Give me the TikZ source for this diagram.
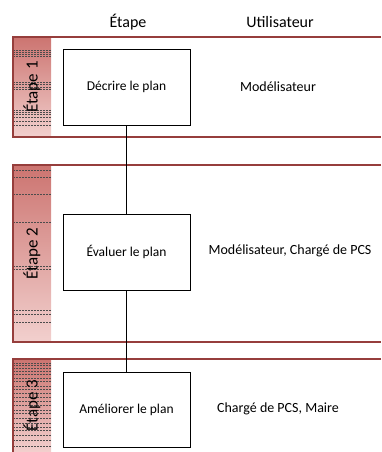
\documentclass[tikz,border=0pt]{standalone}
\usepackage{fontspec}
\setmainfont{Carlito}
\definecolor{lane}{RGB}{150,62,60}
\definecolor{bartop}{RGB}{204,116,112}
\definecolor{barbot}{RGB}{242,208,206}
\begin{document}
\begin{tikzpicture}[x=1pt, y=-1pt,
    etapebox/.style={draw, rectangle, line width=0.8pt, minimum width=127pt, minimum height=76pt, font=\fontsize{13.5}{16}\selectfont},
    usertext/.style={font=\fontsize{14}{17}\selectfont},
    header/.style={font=\fontsize{16}{19}\selectfont},
    lanetitle/.style={rotate=90, font=\fontsize{17}{20}\selectfont},
    laneline/.style={draw=lane, line width=1.2pt},
    bar/.style={top color=bartop, bottom color=barbot},
    ligne/.style={dash pattern=on 2pt off 1pt, line width=0.5pt, draw=black!70}]
    \useasboundingbox (0,0) rectangle (381,452);

    % couloirs
    \fill[bar] (13,37) rectangle (51,137);
    \fill[bar] (13,165) rectangle (51,342);
    \fill[bar] (13,359) rectangle (51,452);
    \foreach \y in {50,52,54,56,82,84.5,87,89.5,110,112,114.5,117,121,125}
        \draw[ligne] (13,\y) -- (51,\y);
    \foreach \y in {170,177.3,194,222.3,266,269,310,314,322.3}
        \draw[ligne] (13,\y) -- (51,\y);
    \foreach \y in {363,365.5,368.3,371,374.3,378.3,381.7,386,389.3,393.3,397.3,401.7,405.7,410,413.3,418.3,423.3,427.3,430.7,435,440,446.7}
        \draw[ligne] (13,\y) -- (51,\y);
    \draw[laneline] (381,37) -- (13,37) -- (13,137) -- (381,137);
    \draw[laneline] (381,165) -- (13,165) -- (13,342) -- (381,342);
    \draw[laneline] (381,359) -- (13,359) -- (13,452);

    % titres
    \node[header] (hEtape) at (128,22) {Étape};
    \node[header] (hUser) at (280,22) {Utilisateur};
    \node[lanetitle] (L1) at (32,87) {Étape 1};
    \node[lanetitle] (L2) at (32,253.5) {Étape 2};
    \node[lanetitle] (L3) at (32,405.5) {Étape 3};

    % étapes
    \node[etapebox] (B1) at (126.5,87) {Décrire le plan};
    \node[etapebox] (B2) at (126.5,252) {Évaluer le plan};
    \node[etapebox, minimum height=75pt] (B3) at (126.5,409.5) {Améliorer le plan};

    % utilisateurs
    \node[usertext] (U1) at (278,87) {Modélisateur};
    \node[usertext] (U2) at (290,251) {Modélisateur, Chargé de PCS};
    \node[usertext] (U3) at (278,409) {Chargé de PCS, Maire};

    % liens
    \draw[line width=0.8pt] (B1) -- (B2);
    \draw[line width=0.8pt] (B2) -- (B3);
\end{tikzpicture}
\end{document}
